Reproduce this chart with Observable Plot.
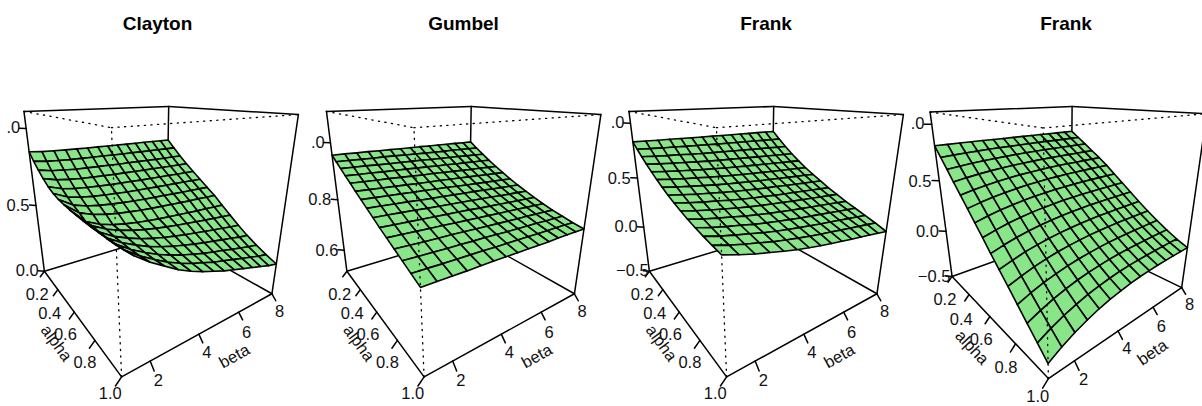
<!DOCTYPE html>
<html><head><meta charset="utf-8">
<script src="https://cdn.jsdelivr.net/npm/d3@7"></script>
<script src="https://cdn.jsdelivr.net/npm/@observablehq/plot@0.6"></script>
<style>html,body{margin:0;padding:0;background:#fff}</style>
</head><body><div id="chart"></div>
<script>
const titles = ["Clayton","Gumbel","Frank","Frank"];
const alpha = [0.2,0.257,0.314,0.371,0.429,0.486,0.543,0.6,0.657,0.714,0.771,0.829,0.886,0.943,1.0];
const beta = [1,1.5,2,2.5,3,3.5,4,4.5,5,5.5,6,6.5,7,7.5,8];
const alphaTicks = [0.2,0.4,0.6,0.8,1.0];
const betaTicks = [2,4,6,8];
const zTicks = [[0,0.5,1],[0.6,0.8,1],[-0.5,0,0.5,1],[-0.5,0,0.5,1]];
const zLimits = [[0,1.1],[0.51,1.1],[-0.5,1.1],[-0.5,1.1]];

const clayton = [
[.857,.850,.847,.845,.844,.843,.843,.842,.842,.841,.841,.841,.841,.840,.840],
[.810,.800,.796,.793,.792,.791,.790,.789,.788,.788,.787,.787,.787,.786,.786],
[.770,.755,.749,.744,.742,.740,.739,.737,.737,.736,.735,.734,.734,.734,.733],
[.735,.715,.706,.700,.697,.694,.692,.691,.690,.689,.688,.687,.686,.686,.685],
[.705,.679,.667,.660,.656,.652,.650,.648,.646,.645,.644,.643,.642,.641,.640],
[.685,.650,.634,.624,.618,.614,.610,.608,.606,.604,.602,.601,.600,.598,.597],
[.672,.624,.603,.590,.582,.576,.571,.567,.565,.563,.560,.558,.557,.555,.553],
[.665,.603,.576,.559,.548,.540,.534,.529,.526,.523,.520,.517,.516,.513,.511],
[.660,.580,.545,.523,.509,.499,.491,.485,.481,.477,.473,.469,.467,.464,.461],
[.658,.583,.544,.518,.498,.482,.470,.460,.451,.444,.437,.429,.423,.417,.411],
[.656,.578,.534,.503,.478,.459,.443,.430,.418,.408,.398,.388,.380,.370,.363],
[.656,.578,.531,.496,.465,.441,.421,.405,.389,.376,.364,.351,.340,.327,.318],
[.657,.579,.528,.489,.454,.426,.403,.383,.364,.349,.335,.319,.305,.290,.279],
[.658,.583,.530,.487,.447,.416,.389,.367,.345,.328,.310,.293,.276,.258,.245],
[.660,.590,.535,.490,.445,.410,.380,.355,.330,.310,.290,.270,.250,.230,.215]];
const gumbel = [
[.958,.958,.957,.957,.956,.956,.955,.955,.955,.954,.954,.953,.953,.952,.952],
[.943,.942,.941,.940,.940,.939,.938,.937,.936,.935,.934,.934,.933,.932,.931],
[.928,.927,.926,.924,.923,.922,.921,.920,.918,.917,.916,.915,.913,.912,.911],
[.913,.911,.910,.908,.907,.906,.904,.903,.901,.900,.898,.897,.895,.894,.892],
[.899,.897,.895,.894,.892,.890,.888,.887,.885,.883,.881,.879,.878,.876,.874],
[.884,.882,.880,.878,.876,.874,.872,.871,.869,.867,.865,.863,.861,.859,.857],
[.870,.868,.866,.864,.862,.860,.858,.856,.853,.851,.849,.847,.845,.843,.841],
[.856,.854,.852,.850,.847,.845,.843,.841,.839,.837,.835,.832,.830,.828,.826],
[.842,.840,.838,.836,.833,.831,.829,.827,.825,.823,.821,.818,.816,.814,.812],
[.828,.826,.824,.822,.820,.818,.816,.814,.811,.809,.807,.805,.803,.801,.799],
[.815,.813,.811,.809,.807,.805,.803,.801,.799,.797,.795,.793,.791,.789,.787],
[.802,.800,.798,.796,.795,.793,.791,.789,.787,.785,.783,.782,.780,.778,.776],
[.789,.787,.786,.784,.783,.781,.780,.778,.776,.775,.773,.772,.770,.769,.767],
[.776,.775,.773,.772,.771,.770,.768,.767,.766,.765,.763,.762,.761,.760,.758],
[.763,.762,.761,.760,.760,.759,.758,.757,.756,.755,.754,.754,.753,.752,.751]];
const frankA = [
[.836,.834,.832,.831,.829,.828,.827,.826,.825,.824,.823,.822,.822,.821,.820],
[.785,.780,.775,.772,.768,.765,.762,.759,.757,.755,.753,.751,.749,.747,.745],
[.737,.729,.722,.717,.710,.705,.701,.697,.694,.691,.687,.684,.681,.678,.675],
[.692,.681,.672,.665,.657,.650,.644,.640,.635,.631,.626,.622,.618,.614,.610],
[.650,.637,.626,.617,.607,.599,.592,.586,.580,.575,.570,.565,.560,.555,.550],
[.611,.596,.583,.573,.561,.552,.544,.537,.530,.524,.518,.512,.507,.501,.495],
[.575,.558,.544,.532,.519,.509,.500,.492,.484,.478,.471,.465,.458,.452,.445],
[.542,.524,.508,.495,.481,.470,.460,.451,.443,.436,.428,.421,.414,.407,.400],
[.513,.492,.475,.461,.445,.432,.421,.412,.402,.394,.387,.379,.371,.363,.355],
[.487,.465,.446,.430,.413,.399,.387,.377,.367,.358,.349,.341,.332,.324,.315],
[.464,.439,.419,.402,.383,.368,.354,.343,.332,.322,.313,.303,.294,.284,.275],
[.444,.417,.395,.377,.356,.340,.326,.313,.301,.291,.281,.271,.260,.250,.240],
[.427,.398,.374,.354,.332,.314,.298,.285,.272,.260,.249,.238,.227,.216,.205],
[.412,.381,.354,.332,.308,.289,.272,.257,.243,.231,.218,.206,.194,.182,.170],
[.400,.365,.335,.310,.285,.262,.243,.226,.210,.197,.183,.170,.157,.143,.130]];
const frankB = [
[.816,.817,.818,.818,.819,.819,.819,.819,.820,.820,.820,.820,.820,.820,.820],
[.731,.737,.742,.746,.750,.752,.754,.756,.757,.758,.759,.759,.760,.760,.760],
[.646,.657,.667,.675,.681,.686,.690,.693,.695,.697,.698,.699,.699,.700,.700],
[.561,.577,.591,.602,.611,.618,.623,.628,.631,.633,.635,.636,.637,.638,.638],
[.476,.497,.515,.530,.542,.551,.558,.564,.568,.571,.573,.574,.575,.576,.577],
[.392,.417,.438,.455,.469,.480,.488,.496,.500,.504,.506,.508,.509,.510,.511],
[.307,.335,.358,.376,.392,.404,.413,.421,.426,.430,.433,.435,.436,.437,.438],
[.222,.252,.278,.298,.315,.328,.338,.346,.352,.356,.359,.361,.363,.364,.365],
[.134,.167,.195,.217,.236,.250,.261,.271,.277,.282,.285,.287,.289,.290,.291],
[.050,.085,.116,.139,.159,.174,.186,.196,.203,.208,.211,.214,.215,.217,.218],
[-.033,.005,.038,.064,.086,.102,.115,.126,.134,.139,.143,.145,.147,.149,.150],
[-.120,-.077,-.040,-.012,.013,.031,.045,.057,.066,.072,.076,.079,.081,.083,.084],
[-.205,-.157,-.116,-.084,-.056,-.036,-.020,-.006,.003,.010,.015,.018,.021,.023,.024],
[-.290,-.235,-.189,-.152,-.121,-.098,-.079,-.064,-.053,-.046,-.040,-.036,-.034,-.031,-.030],
[-.374,-.311,-.257,-.215,-.179,-.152,-.131,-.113,-.101,-.092,-.086,-.082,-.079,-.076,-.074]];
const surfaces = [clayton,gumbel,frankA,frankB];

// View options for each perspective panel
const views = [
 {theta:55,phi:19.6,expand:1,D:3.62,s:322,cx:151,cy:204.7,titleX:157},
 {theta:55,phi:19.6,expand:1,D:3.62,s:322,cx:453.5,cy:204.7,titleX:463},
 {theta:55,phi:19.6,expand:1,D:3.62,s:322,cx:756,cy:204.7,titleX:765.5},
 {theta:50,phi:19.6,expand:1,D:3.62,s:322,cx:1063,cy:204.7,titleX:1065.5}
];
const alphaNudge = [12,12,9,7,-1], betaNudge = [0,1,5,4];
const rad = Math.PI/180;
function projector(v){
  const a=Math.cos(v.theta*rad),b=Math.sin(v.theta*rad),c=Math.cos(v.phi*rad),e=Math.sin(v.phi*rad);
  return (X,Y,Z0)=>{
    const Z=Z0*v.expand, xp=a*X+b*Y, zp=b*X-a*Y;
    const yy=Z*c-zp*e, zz=Z*e+zp*c, w=v.s/(v.D-zz);
    return {x:v.cx+xp*w,y:v.cy-yy*w,depth:zz};
  };
}
const nx=a=>2*(a-0.2)/0.8-1, ny=b=>2*(b-1)/7-1;

const cells=[],solid=[],dotted=[],ticks=[],labels=[],clipped=[],names=[],heads=[];
let id=0;
function seg(list,p,q){id++;list.push({...p,id},{...q,id});}
views.forEach((v,k)=>{
  const P=projector(v),[z0,z1]=zLimits[k],nz=z=>2*(z-z0)/(z1-z0)-1;
  const C=P;
  seg(solid,C(-1,-1,-1),C(-1,1,-1));seg(solid,C(-1,1,-1),C(1,1,-1));seg(solid,C(-1,1,-1),C(-1,1,1));
  seg(solid,C(-1,-1,1),C(-1,1,1));seg(solid,C(-1,1,1),C(1,1,1));
  seg(solid,C(-1,-1,-1),C(-1,-1,1));seg(solid,C(1,1,-1),C(1,1,1));
  seg(solid,C(-1,-1,-1),C(1,-1,-1));seg(solid,C(1,-1,-1),C(1,1,-1));
  seg(dotted,C(-1,-1,1),C(1,-1,1));seg(dotted,C(1,-1,1),C(1,1,1));seg(dotted,C(1,-1,-1),C(1,-1,1));
  const m=surfaces[k],pk=[];
  for(let i=0;i<alpha.length-1;i++)for(let j=0;j<beta.length-1;j++){
    const corners=[[i,j],[i+1,j],[i+1,j+1],[i,j+1],[i,j]].map(([r,q])=>P(nx(alpha[r]),ny(beta[q]),nz(m[r][q])));
    pk.push({corners,depth:d3.mean(corners.slice(0,4),d=>d.depth)});
  }
  pk.sort((a,b)=>a.depth-b.depth).forEach(cell=>{id++;cell.corners.forEach(c=>cells.push({...c,id}));});
  const T=.06;
  alphaTicks.forEach((t,n)=>{
    seg(ticks,C(nx(t),-1,-1),C(nx(t),-1-T,-1-T));
    const pos=C(nx(t),-1-2*T,-1-2*T);
    labels.push({...pos,x:pos.x+1,y:pos.y+alphaNudge[n],text:t.toFixed(1)});
  });
  betaTicks.forEach((t,n)=>{
    seg(ticks,C(1,ny(t),-1),C(1+T,ny(t),-1-T));
    const pos=C(1+2*T,ny(t),-1-2*T);
    labels.push({...pos,y:pos.y+betaNudge[n],text:String(t)});
  });
  zTicks[k].forEach(t=>{
    seg(ticks,C(-1,-1,nz(t)),C(-1-T,-1-T,nz(t)));
    const pos=C(-1-2*T,-1-2*T,nz(t));
    if(t===1) clipped.push({...pos,x:pos.x-3,text:".0"});
    else labels.push({...pos,x:pos.x-5,y:pos.y+1,text:t.toFixed(1).replace("-","\u2212")});
  });
  const aL=C(-1,-1,-1),aF=C(1,-1,-1),aM=C(0,-1,-1),bR=C(1,1,-1),bM=C(1,0,-1);
  names.push({x:aM.x,y:aM.y,text:"alpha",rotate:Math.atan2(aF.y-aL.y,aF.x-aL.x)/rad,kind:"a"});
  names.push({x:bM.x,y:bM.y,text:"beta",rotate:Math.atan2(bR.y-aF.y,bR.x-aF.x)/rad,kind:"b"});
  heads.push({x:v.titleX,text:titles[k]});
});

const lw=1.5;
const font="'Liberation Sans',Arial,Helvetica,sans-serif";
const chart=Plot.plot({
  width:1202,height:406,margin:0,
  style:{background:"#fff",fontFamily:font},
  x:{domain:[0,1202],range:[0,1202],axis:null},
  y:{domain:[0,406],range:[0,406],axis:null},
  marks:[
    Plot.line(solid,{x:"x",y:"y",z:"id",stroke:"#000",strokeWidth:lw}),
    Plot.line(cells,{x:"x",y:"y",z:"id",fill:"#88e588",stroke:"#000",strokeWidth:1.6,strokeLinejoin:"round"}),
    Plot.line(dotted,{x:"x",y:"y",z:"id",stroke:"#000",strokeWidth:1.3,strokeDasharray:"1.2 5.4"}),
    Plot.line(ticks,{x:"x",y:"y",z:"id",stroke:"#000",strokeWidth:lw}),
    Plot.text(labels,{x:"x",y:"y",text:"text",fontSize:16.5,fill:"#111"}),
    Plot.text(clipped,{x:"x",y:"y",text:"text",fontSize:16.5,fill:"#111",textAnchor:"end",dx:11}),
    Plot.text(names.filter(d=>d.kind==="a"),{x:"x",y:"y",text:"text",rotate:"rotate",fontSize:16.5,fill:"#111",dx:-18,dy:31}),
    Plot.text(names.filter(d=>d.kind==="b"),{x:"x",y:"y",text:"text",rotate:"rotate",fontSize:16.5,fill:"#111",dx:25,dy:28}),
    Plot.text(heads,{x:"x",y:()=>23,text:"text",fontSize:19,fontWeight:"bold",fill:"#000"})
  ]
});
document.getElementById("chart").appendChild(chart);
</script></body></html>
